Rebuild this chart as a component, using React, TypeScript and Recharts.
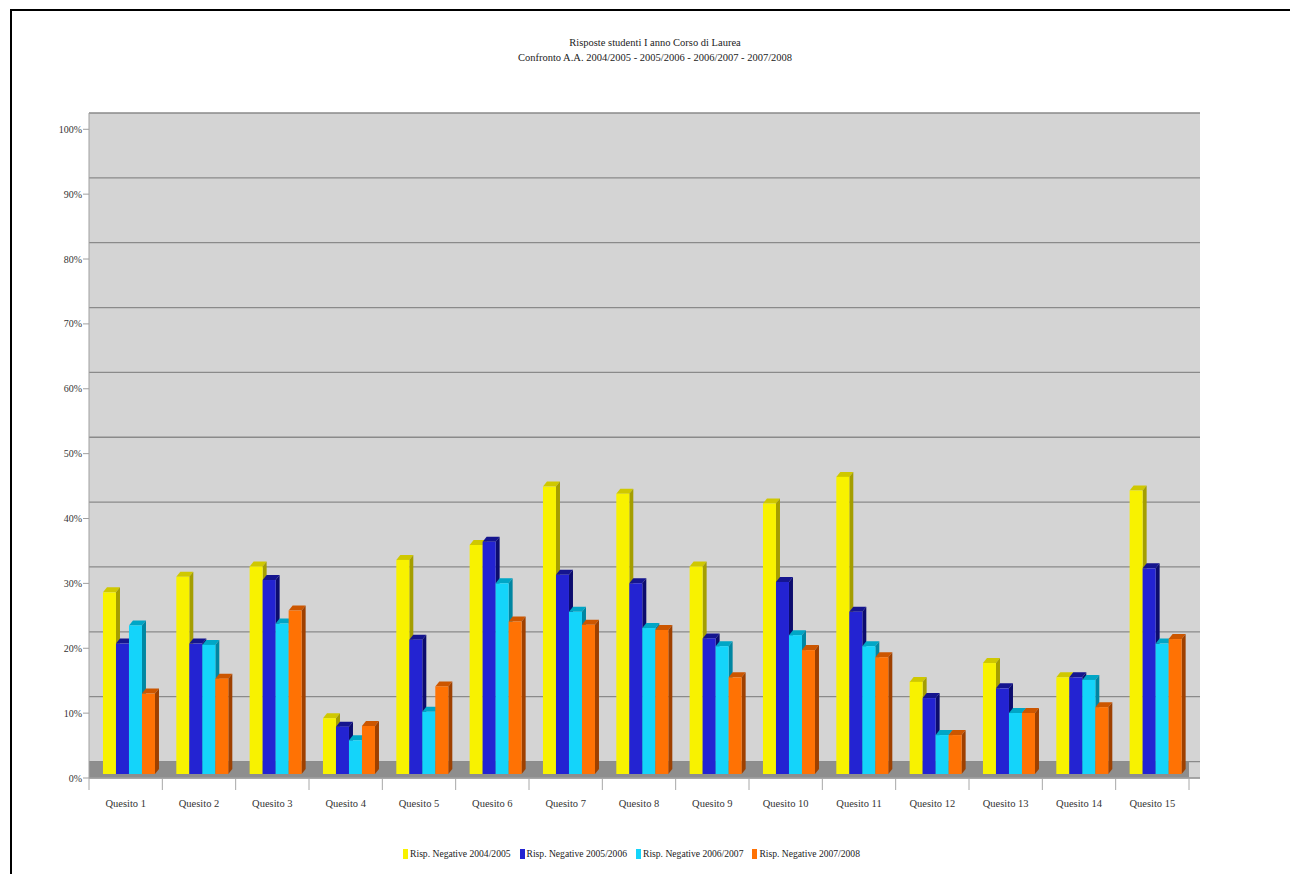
import React from 'react';
import { ComposedChart, Bar, XAxis, YAxis, CartesianGrid, ReferenceArea } from 'recharts';

const categories = ['Quesito 1', 'Quesito 2', 'Quesito 3', 'Quesito 4', 'Quesito 5', 'Quesito 6', 'Quesito 7', 'Quesito 8', 'Quesito 9', 'Quesito 10', 'Quesito 11', 'Quesito 12', 'Quesito 13', 'Quesito 14', 'Quesito 15'];
const neg0405 = [28.0, 30.4, 32.0, 8.6, 33.0, 35.3, 44.3, 43.2, 32.0, 41.7, 45.8, 14.2, 17.1, 14.9, 43.7];
const neg0506 = [20.1, 20.1, 29.9, 7.3, 20.7, 35.8, 30.7, 29.4, 20.9, 29.6, 25.0, 11.7, 13.2, 14.9, 31.7];
const neg0607 = [22.9, 19.9, 23.2, 5.2, 9.6, 29.4, 25.0, 22.5, 19.7, 21.4, 19.7, 6.0, 9.4, 14.5, 20.1];
const neg0708 = [12.4, 14.7, 25.2, 7.4, 13.5, 23.5, 23.0, 22.2, 14.9, 19.1, 18.0, 6.0, 9.4, 10.3, 20.8];
const yTicks = [0, 10, 20, 30, 40, 50, 60, 70, 80, 90, 100];
const titleLines = ['Risposte studenti I anno Corso di Laurea', 'Confronto A.A. 2004/2005 - 2005/2006 - 2006/2007 - 2007/2008'];

const seriesInfo = [
  { key: 's1', name: 'Risp. Negative 2004/2005', front: '#f8f200', top: '#cfc800', side: '#a49e00' },
  { key: 's2', name: 'Risp. Negative 2005/2006', front: '#2323d2', top: '#15158f', side: '#0c0c6e' },
  { key: 's3', name: 'Risp. Negative 2006/2007', front: '#14d4fa', top: '#00a6c6', side: '#0086a2' },
  { key: 's4', name: 'Risp. Negative 2007/2008', front: '#ff7204', top: '#cc5600', side: '#9e4000' },
];

const data = categories.map((name, i) => ({
  name,
  s1: neg0405[i],
  s2: neg0506[i],
  s3: neg0607[i],
  s4: neg0708[i],
}));

const FONT = '"Liberation Serif", "Times New Roman", serif';
const DX = 4;
const DY = 5;

const make3D = (info: typeof seriesInfo[number]) => (props: any) => {
  const { x, y, width, height } = props;
  if (width == null || height == null || isNaN(x) || isNaN(y)) return <g />;
  const x2 = x + width;
  const yb = y + height;
  return (
    <g>
      <polygon points={`${x},${y} ${x + DX},${y - DY} ${x2 + DX},${y - DY} ${x2},${y}`} fill={info.top} />
      <polygon points={`${x2},${y} ${x2 + DX},${y - DY} ${x2 + DX},${yb - DY} ${x2},${yb}`} fill={info.side} />
      <rect x={x} y={y} width={width} height={height} fill={info.front} />
    </g>
  );
};

const CatTick = (props: any) => {
  const { x, y, payload, index } = props;
  const half = payload && payload.offset ? payload.offset : 36.67;
  return (
    <g>
      <line x1={x - half} y1={y} x2={x - half} y2={y + 12} stroke="#a8a8a8" />
      {index === categories.length - 1 && (
        <line x1={x + half} y1={y} x2={x + half} y2={y + 12} stroke="#a8a8a8" />
      )}
      <text x={x} y={y + 29} textAnchor="middle" fontSize={10.5} fill="#333" fontFamily={FONT}>
        {payload.value}
      </text>
    </g>
  );
};

export default function App() {
  return (
    <div style={{ position: 'absolute', left: 0, top: 0, width: 1290, height: 874, overflow: 'hidden', background: '#fff', fontFamily: FONT }}>
      <div style={{ position: 'absolute', left: 10, top: 9, width: 1300, height: 900, borderTop: '2px solid #000', borderLeft: '2px solid #000' }} />
      <div style={{ position: 'absolute', left: 455, top: 35, width: 400, textAlign: 'center', fontSize: 10.5, lineHeight: '15px', color: '#222' }}>
        {titleLines.map((t) => (
          <div key={t}>{t}</div>
        ))}
      </div>
      <div style={{ position: 'absolute', left: 0, top: 0 }}>
        <ComposedChart width={1290} height={874} data={data} margin={{ top: 113, right: 90, bottom: 66, left: 49 }} barCategoryGap="13.6%" barGap={0}>
          <XAxis xAxisId="barX" dataKey="name" padding={{ left: 4, right: 7 }} height={0} hide />
          <XAxis xAxisId="cat" dataKey="name" padding={{ left: 0, right: 11 }} height={30} tickLine={false} tickSize={0} tickMargin={0} axisLine={{ stroke: '#a8a8a8' }} tick={<CatTick />} interval={0} />
          <YAxis yAxisId="back" domain={[-2.54, 100]} ticks={yTicks} allowDataOverflow width={0} hide />
          <YAxis yAxisId="bar" domain={[-0.617, 101.89]} allowDataOverflow width={0} hide />
          <YAxis yAxisId="front" domain={[0, 102.51]} ticks={yTicks} allowDataOverflow width={40} tickSize={6} tickMargin={1} tickFormatter={(v: number) => `${v}%`} axisLine={{ stroke: '#a0a0a0' }} tickLine={{ stroke: '#a0a0a0' }} tick={{ fontSize: 10, fill: '#333', fontFamily: FONT }} />
          <CartesianGrid xAxisId="cat" yAxisId="back" vertical={false} stroke="#8a8a8a" strokeWidth={1.3} fill="#d4d4d4" />
          <ReferenceArea xAxisId="cat" yAxisId="back" y1={-2.54} y2={0} fill="#8e8e8e" fillOpacity={1} stroke="none" />
          {seriesInfo.map((s) => (
            <Bar key={s.key} xAxisId="barX" yAxisId="bar" dataKey={s.key} name={s.name} fill={s.front} isAnimationActive={false} shape={make3D(s)} />
          ))}
        </ComposedChart>
      </div>
      <div style={{ position: 'absolute', left: 0, width: 1272, top: 848, display: 'flex', justifyContent: 'center', fontSize: 9.6, color: '#222' }}>
        {seriesInfo.map((s) => (
          <div key={s.key} style={{ display: 'flex', alignItems: 'center', marginRight: 9 }}>
            <span style={{ display: 'inline-block', width: 5, height: 10, background: s.front, marginRight: 2 }} />
            <span>{s.name}</span>
          </div>
        ))}
      </div>
    </div>
  );
}
